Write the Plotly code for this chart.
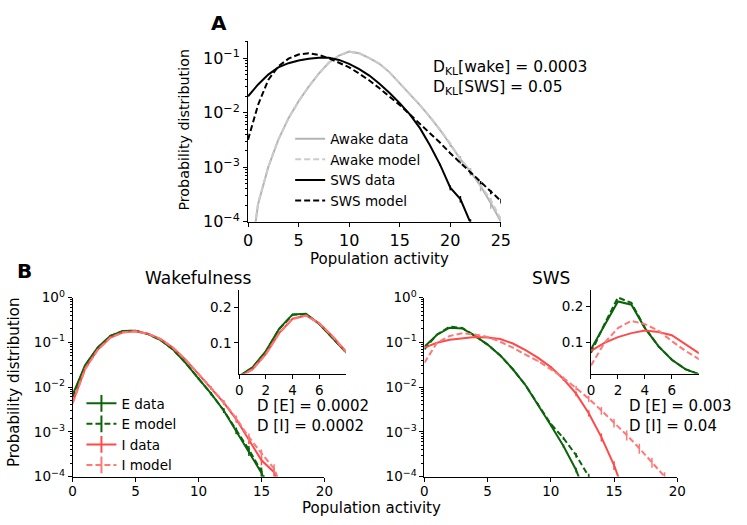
"""
Population activity distributions: awake vs SWS (A), E/I cells (B).
"""
import plotly.graph_objects as go

W, H = 747, 525
FONT = "DejaVu Sans"

GRAY = "#b3b3b3"
GRAY_LIGHT = "#cccccc"
BLACK = "#000000"
GREEN = "#0b640b"
RED = "#ff4a4a"
RED_LIGHT = "#ff7878"

# ---- panel A -------------------------------------------------------------
awake_data = [1.0e-5, 2.1e-4, 1.0e-3, 3.2e-3, 7.9e-3, 0.0162, 0.030, 0.052, 0.083, 0.112,
              0.132, 0.123, 0.100, 0.079, 0.055, 0.035, 0.022, 0.0138, 0.0083, 0.0048,
              0.0026, 0.0014, 8.3e-4, 4.5e-4, 2.2e-4, 1.0e-4]
awake_model = [1.2e-5, 2.2e-4, 1.0e-3, 3.2e-3, 7.9e-3, 0.0160, 0.030, 0.052, 0.083, 0.112,
               0.131, 0.123, 0.100, 0.079, 0.055, 0.035, 0.022, 0.0138, 0.0084, 0.0049,
               0.0027, 0.0014, 8.5e-4, 4.7e-4, 2.5e-4, 1.1e-4]
sws_data = [0.020, 0.033, 0.050, 0.068, 0.081, 0.091, 0.098, 0.102, 0.102, 0.093,
            0.079, 0.063, 0.048, 0.034, 0.023, 0.015, 0.0093, 0.0052, 0.0025, 0.0011,
            4.2e-4, 2.6e-4, 9.5e-5]
sws_model = [0.0032, 0.014, 0.040, 0.071, 0.098, 0.117, 0.123, 0.115, 0.100, 0.083,
             0.068, 0.052, 0.039, 0.028, 0.020, 0.0138, 0.0093, 0.0063, 0.0042, 0.0028,
             0.0018, 0.0012, 7.8e-4, 5.2e-4, 3.5e-4, 2.4e-4]
rel_err_a_data = [0] * 19 + [0.05, 0.1, 0.14, 0.16, 0.2, 0.22, 0.25]
rel_err_a_model = [0] * 21 + [0.03, 0.05, 0.07, 0.09, 0.1]

# ---- panel B: wakefulness --------------------------------------------------
wake_e_data = [0.0067, 0.031, 0.077, 0.140, 0.180, 0.182, 0.153, 0.112, 0.068, 0.034,
               0.0155, 0.0071, 0.0030, 0.00105, 3.6e-4, 1.2e-4, 2.5e-5]
wake_e_model = [0.0060, 0.030, 0.076, 0.139, 0.179, 0.181, 0.153, 0.112, 0.068, 0.034,
                0.0155, 0.0071, 0.0030, 0.00108, 4.0e-4, 1.3e-4, 3.0e-5]
wake_i_data = [0.0045, 0.026, 0.069, 0.128, 0.168, 0.177, 0.155, 0.118, 0.075, 0.040,
               0.0195, 0.0095, 0.0045, 0.0019, 6.6e-4, 2.3e-4, 1.25e-4, 2.5e-5]
wake_i_model = [0.0043, 0.025, 0.068, 0.127, 0.167, 0.177, 0.155, 0.118, 0.075, 0.040,
                0.0197, 0.0097, 0.0046, 0.0020, 7.6e-4, 3.3e-4, 1.5e-4, 3.0e-5]

# ---- panel B: SWS ----------------------------------------------------------
sws_e_data = [0.080, 0.148, 0.213, 0.204, 0.139, 0.089, 0.051, 0.025, 0.011, 0.0040,
              0.0014, 4.8e-4, 1.4e-4, 2.5e-5]
sws_e_model = [0.070, 0.150, 0.224, 0.209, 0.140, 0.089, 0.051, 0.025, 0.011, 0.0042,
               0.0015, 7.2e-4, 3.0e-4, 1.0e-4, 2.0e-5]
sws_i_data = [0.076, 0.098, 0.114, 0.125, 0.132, 0.128, 0.119, 0.094, 0.067, 0.045,
              0.028, 0.0151, 0.0071, 0.0026, 7.6e-4, 1.8e-4, 3.0e-5]
sws_i_model = [0.035, 0.098, 0.139, 0.159, 0.150, 0.132, 0.103, 0.076, 0.053, 0.038,
               0.025, 0.016, 0.0095, 0.0055, 0.0030, 0.0016, 8.5e-4, 4.3e-4, 2.1e-4,
               1.0e-4, 4.0e-5]
rel_err_b = [0] * 9 + [0.03, 0.05, 0.08, 0.12, 0.16, 0.2, 0.22, 0.25, 0.25, 0.25, 0.25, 0.25]

log_tickvals = [1e-4, 1e-3, 1e-2, 1e-1, 1]
log_ticktext = ["10<sup>\u22124</sup>", "10<sup>\u22123</sup>", "10<sup>\u22122</sup>",
                "10<sup>\u22121</sup>", "10<sup>0</sup>"]


def px_x(a, b):
    return [a / W, b / W]


def px_y(top, bottom):
    return [1 - bottom / H, 1 - top / H]


fig = go.Figure()
DASH = "6px,3px"


def add_line(y, color, dash, name, ax, rel_err, legend=None):
    x = list(range(len(y)))
    err = [r * v for r, v in zip(rel_err, y)]
    fig.add_trace(go.Scatter(
        x=x, y=y, mode="lines", name=name,
        line=dict(color=color, width=2, dash=dash),
        error_y=dict(type="data", array=err, visible=True, color=color, thickness=1.5, width=0),
        xaxis="x" + ax, yaxis="y" + ax,
        showlegend=legend is not None, legend=legend or "legend",
    ))


def add_plain(y, color, dash, ax):
    fig.add_trace(go.Scatter(
        x=list(range(len(y))), y=y, mode="lines",
        line=dict(color=color, width=2, dash=dash),
        xaxis="x" + ax, yaxis="y" + ax, showlegend=False,
    ))


def add_key(name, color, dash, legend):
    # legend-only entry: line with a vertical tick, like an errorbar handle
    fig.add_trace(go.Scatter(
        x=[None], y=[None], mode="lines+markers", name=name,
        line=dict(color=color, width=2, dash=dash),
        marker=dict(symbol="line-ns-open", size=12, color=color, line=dict(width=2, color=color)),
        xaxis="x2", yaxis="y2", legend=legend,
    ))


# panel A
add_line(awake_data, GRAY, "solid", "Awake data", "", rel_err_a_data, "legend")
add_line(awake_model, GRAY_LIGHT, DASH, "Awake model", "", rel_err_a_model, "legend")
add_line(sws_data, BLACK, "solid", "SWS data", "", rel_err_a_data, "legend")
add_line(sws_model, BLACK, DASH, "SWS model", "", rel_err_a_model, "legend")

# panel B wake
b_series = [("E data", GREEN, "solid"), ("E model", GREEN, DASH),
            ("I data", RED, "solid"), ("I model", RED_LIGHT, DASH)]
for (name, c, d), y in zip(b_series, [wake_e_data, wake_e_model, wake_i_data, wake_i_model]):
    add_line(y, c, d, name, "2", rel_err_b)
    add_plain(y, c, d, "3")
for name, c, d in b_series:
    add_key(name, c, d, "legend2")

# panel B SWS
for (name, c, d), y in zip(b_series, [sws_e_data, sws_e_model, sws_i_data, sws_i_model]):
    add_line(y, c, d, name, "4", rel_err_b)
    add_plain(y, c, d, "5")


def lin_axis(size):
    return dict(showline=True, linecolor="black", linewidth=1, mirror=False,
                showgrid=False, zeroline=False, ticks="outside", ticklen=4,
                tickcolor="black", tickfont=dict(size=size, color="black"))


def log_axis(size):
    return dict(lin_axis(size), type="log", tickmode="array", tickvals=log_tickvals,
                ticktext=log_ticktext,
                minor=dict(ticks="outside", ticklen=2, tickcolor="black", dtick="D1"))


bottom_x = dict(lin_axis(13.5), range=[0, 20], tickvals=[0, 5, 10, 15, 20], ticklabelstandoff=-2)

# size comes from the page div (see write_html below), so no width/height here
fig.update_layout(
    autosize=True, margin=dict(l=0, r=0, t=0, b=0),
    paper_bgcolor="white", plot_bgcolor="white",
    font=dict(family=FONT, color="black"),
    xaxis=dict(lin_axis(16), domain=px_x(248, 506), range=[0, 25],
               tickvals=[0, 5, 10, 15, 20, 25], anchor="y"),
    yaxis=dict(log_axis(16), domain=px_y(32, 220), range=[-4, -0.68], anchor="x",
               tickvals=log_tickvals[:4], ticktext=log_ticktext[:4]),
    xaxis2=dict(bottom_x, domain=px_x(69, 326), anchor="y2"),
    yaxis2=dict(log_axis(13.5), domain=px_y(299, 485), range=[-4, 0], anchor="x2"),
    xaxis3=dict(lin_axis(13.5), domain=px_x(239, 348), range=[0, 8], tickvals=[0, 2, 4, 6], anchor="y3"),
    yaxis3=dict(lin_axis(13.5), domain=px_y(291, 378), range=[0.0135, 0.249], tickvals=[0.1, 0.2],
                ticktext=["0.1", "0.2"], anchor="x3"),
    xaxis4=dict(bottom_x, domain=px_x(428, 686), anchor="y4"),
    yaxis4=dict(log_axis(13.5), domain=px_y(299, 485), range=[-4, 0], anchor="x4"),
    xaxis5=dict(lin_axis(13.5), domain=px_x(598, 708), range=[0, 8], tickvals=[0, 2, 4, 6], anchor="y5"),
    yaxis5=dict(lin_axis(13.5), domain=px_y(291, 378), range=[0.0126, 0.245], tickvals=[0.1, 0.2],
                ticktext=["0.1", "0.2"], anchor="x5"),
    legend=dict(x=291 / W, y=1 - 118 / H, xanchor="left", yanchor="top", bgcolor="rgba(0,0,0,0)",
                font=dict(size=13.5), tracegroupgap=0, itemwidth=30),
    legend2=dict(x=78 / W, y=1 - 393 / H, xanchor="left", yanchor="top", bgcolor="rgba(0,0,0,0)",
                 font=dict(size=13.5), tracegroupgap=0, itemwidth=30),
)

notes = [
    ("<b>A</b>", 218, 13, 20, "center", 0),
    ("<b>B</b>", 20, 271, 20, "center", 0),
    ("D<sub>KL</sub>[wake] = 0.0003", 435, 60, 15.5, "left", 0),
    ("D<sub>KL</sub>[SWS] = 0.05", 435, 81, 15.5, "left", 0),
    ("Wakefulness", 197, 279, 17, "center", 0),
    ("SWS", 557, 279, 17, "center", 0),
    ("D [E] = 0.0002", 255, 412, 15, "left", 0),
    ("D [I] = 0.0002", 255, 432, 15, "left", 0),
    ("D [E] = 0.003", 635, 412, 15, "left", 0),
    ("D [I] = 0.04", 635, 432, 15, "left", 0),
    ("Population activity", 382, 259, 15, "center", 0),
    ("Population activity", 374, 518, 15, "center", 0),
    ("Probability distribution", 183, 124, 14.3, "center", -90),
    ("Probability distribution", 9, 387, 15, "center", -90),
]
for text, x, y, size, align, angle in notes:
    fig.add_annotation(text=text, x=x / W, y=1 - y / H, xref="paper", yref="paper",
                       xanchor=align, yanchor="middle", showarrow=False, textangle=angle,
                       font=dict(size=size, color="black", family=FONT))

# pin the plot div to the window corner so the page body margin does not shift it
fig.write_html(
    "out.html",
    config={"displayModeBar": False},
    default_width=f"{W}px; position: absolute; left: 0; top: 0",
    default_height=f"{H}px",
)
